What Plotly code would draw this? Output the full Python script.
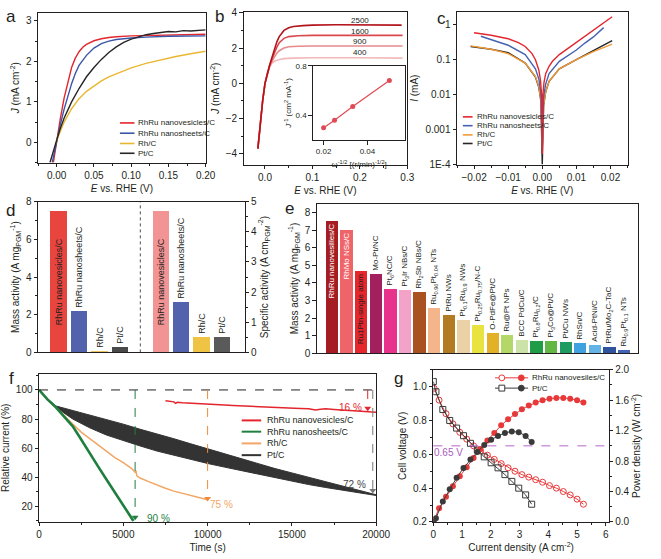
import plotly.graph_objects as go

W, H = 661, 559
FONT = "Liberation Sans, Arial, sans-serif"
INK = "#231f20"

# ===================== DATA =====================
# (a) polarization curves
a_names = ["RhRu nanovesicles/C", "RhRu nanosheets/C", "Rh/C", "Pt/C"]
a_colors = ["#e3262d", "#3b56a6", "#eab730", "#262626"]
a_ves_E = [-0.0045, -0.002, 0.0, 0.005, 0.01, 0.015, 0.02, 0.025, 0.03, 0.035, 0.04, 0.05, 0.06, 0.07, 0.08, 0.1, 0.12, 0.15, 0.2]
a_ves_J = [-0.5, -0.2, 0.05, 0.6, 1.1, 1.5, 1.85, 2.08, 2.24, 2.35, 2.42, 2.51, 2.56, 2.59, 2.61, 2.63, 2.64, 2.65, 2.67]
a_sht_E = [-0.006, -0.003, 0.0, 0.005, 0.01, 0.015, 0.02, 0.025, 0.03, 0.04, 0.05, 0.06, 0.07, 0.08, 0.1, 0.12, 0.15, 0.2]
a_sht_J = [-0.5, -0.22, 0.03, 0.45, 0.82, 1.15, 1.45, 1.7, 1.9, 2.15, 2.33, 2.44, 2.5, 2.54, 2.58, 2.6, 2.62, 2.63]
a_rh_E = [-0.002, 0.0, 0.005, 0.01, 0.02, 0.03, 0.04, 0.05, 0.06, 0.07, 0.08, 0.1, 0.12, 0.14, 0.16, 0.18, 0.2]
a_rh_J = [-0.05, 0.05, 0.3, 0.5, 0.83, 1.08, 1.26, 1.4, 1.52, 1.62, 1.7, 1.84, 1.95, 2.04, 2.12, 2.19, 2.25]
a_pt_E = [-0.009, -0.005, -0.002, 0.0, 0.005, 0.01, 0.02, 0.03, 0.04, 0.05, 0.06, 0.07, 0.08, 0.09, 0.1, 0.11, 0.12, 0.13, 0.14, 0.15, 0.16, 0.17, 0.18, 0.19, 0.2]
a_pt_J = [-0.5, -0.28, -0.08, 0.05, 0.35, 0.6, 1.0, 1.33, 1.62, 1.85, 2.05, 2.22, 2.36, 2.47, 2.55, 2.61, 2.66, 2.69, 2.72, 2.74, 2.73, 2.76, 2.75, 2.77, 2.78]

# (b) rotating-speed curves
b_rpm = ["2500", "1600", "900", "400"]
b_colors = ["#b3141b", "#d9484c", "#e98a8c", "#f3b9ba"]
b_E_2500 = [-0.015, -0.01, -0.005, 0.0, 0.005, 0.01, 0.015, 0.02, 0.025, 0.03, 0.04, 0.05, 0.06, 0.08, 0.1, 0.15, 0.2, 0.288]
b_J_2500 = [-3.7, -2.3, -1.0, 0.0, 0.6, 1.05, 1.5, 1.95, 2.35, 2.65, 3.0, 3.15, 3.22, 3.27, 3.3, 3.32, 3.32, 3.3]
b_E_1600 = [-0.015, -0.01, -0.005, 0.0, 0.005, 0.01, 0.015, 0.02, 0.025, 0.03, 0.04, 0.05, 0.07, 0.1, 0.2, 0.29]
b_J_1600 = [-3.7, -2.3, -1.0, 0.0, 0.6, 1.02, 1.4, 1.75, 2.05, 2.3, 2.55, 2.65, 2.7, 2.72, 2.72, 2.72]
b_E_900 = [-0.015, -0.01, -0.005, 0.0, 0.005, 0.01, 0.015, 0.02, 0.025, 0.03, 0.04, 0.05, 0.07, 0.1, 0.2, 0.29]
b_J_900 = [-3.7, -2.3, -1.0, 0.0, 0.6, 1.0, 1.3, 1.5, 1.7, 1.85, 2.0, 2.07, 2.1, 2.12, 2.12, 2.12]
b_E_400 = [-0.015, -0.01, -0.005, 0.0, 0.005, 0.01, 0.015, 0.02, 0.03, 0.04, 0.06, 0.1, 0.2, 0.29]
b_J_400 = [-3.7, -2.3, -1.0, 0.0, 0.55, 0.95, 1.15, 1.25, 1.35, 1.4, 1.43, 1.45, 1.45, 1.43]
b_label_J = [3.57, 2.96, 2.37, 1.72]
# inset: Koutecky-Levich
b_inset_w = [0.02, 0.025, 0.0333, 0.05]
b_inset_invJ = [0.30, 0.36, 0.47, 0.68]

# (c) Tafel / micro-polarization
c_colors = ["#e3262d", "#4562b0", "#f29a38", "#262626"]
c_ves_E = [-0.02, -0.015, -0.01, -0.007, -0.005, -0.003, -0.002, -0.001, -0.0005, -0.0002, 0.0, 0.0002, 0.0005, 0.001, 0.002, 0.003, 0.005, 0.0075, 0.01, 0.0125, 0.015, 0.0175, 0.02, 0.0205]
c_ves_I = [0.59, 0.5, 0.4, 0.31, 0.24, 0.15, 0.1, 0.05, 0.025, 0.01, 0.0002, 0.01, 0.022, 0.04, 0.065, 0.09, 0.14, 0.21, 0.3, 0.45, 0.69, 1.05, 1.6, 1.7]
c_sht_E = [-0.018, -0.015, -0.01, -0.005, -0.002, -0.001, -0.0004, 0.0, 0.0004, 0.001, 0.002, 0.005, 0.01, 0.0125, 0.015, 0.018]
c_sht_I = [0.47, 0.38, 0.26, 0.14, 0.055, 0.028, 0.011, 0.0003, 0.009, 0.02, 0.04, 0.09, 0.19, 0.3, 0.45, 0.83]
c_rh_E = [-0.021, -0.015, -0.01, -0.005, -0.002, -0.001, -0.0004, 0.0, 0.0004, 0.001, 0.002, 0.005, 0.01, 0.015, 0.0205]
c_rh_I = [0.25, 0.2, 0.15, 0.08, 0.033, 0.017, 0.007, 0.0003, 0.005, 0.012, 0.024, 0.055, 0.1, 0.17, 0.28]
c_pt_E = [-0.021, -0.015, -0.01, -0.005, -0.002, -0.001, -0.0004, 0.0, 0.0004, 0.001, 0.002, 0.005, 0.01, 0.015, 0.0205]
c_pt_I = [0.24, 0.2, 0.16, 0.08, 0.032, 0.016, 0.0065, 0.0001, 0.005, 0.012, 0.024, 0.055, 0.1, 0.18, 0.35]

# (d) mass / specific activity
d_labels = ["RhRu nanovesicles/C", "RhRu nanosheets/C", "Rh/C", "Pt/C"]
d_mass = [7.5, 2.2, 0.1, 0.3]
d_specific = [4.69, 1.69, 0.52, 0.52]
d_mass_colors = ["#e8453f", "#5262ad", "#e9c45a", "#4a4a4a"]
d_spec_colors = ["#f39494", "#5262ad", "#efc445", "#5a5a5a"]

# (e) comparison with reported catalysts
e_labels = ["RhRu nanovesilles/C", "RhMo NSs/C", "Ru1Ptn-single atom", "Mo-Pt/NC",
            "Pt<sub>6</sub>NC/C", "Pt<sub>3</sub>Ir NBs/C", "Rh<sub>2</sub>Sb NBs/C",
            "Ru<sub>0.96</sub>Pt<sub>0.04</sub> NTs", "PtRu NWs", "Pt<sub>0.1</sub>Ru<sub>0.9</sub> NWs",
            "Pt<sub>0.25</sub>Ru<sub>0.75</sub>/N-C", "O-PdFe@Pt/C", "Ru@Pt NPs", "BCC PdCu/C",
            "Pt<sub>0.8</sub>Ru<sub>0.2</sub>/C", "Pt<sub>3</sub>Co@Pt/C", "Pt/Cu NWs", "RhSn/C",
            "Acid-PtNi/C", "PtRu/Mo<sub>2</sub>C-TaC", "Ru<sub>0.9</sub>Pt<sub>0.1</sub> NTs"]
e_values = [7.55, 7.0, 4.7, 4.55, 3.65, 3.6, 3.5, 2.58, 2.2, 1.92, 1.65, 1.15, 1.05, 0.78,
            0.72, 0.7, 0.68, 0.6, 0.48, 0.4, 0.22]
e_colors = ["#a51d22", "#ef6469", "#e5262c", "#a3205f", "#e8338c", "#f3a3c8", "#a9521f",
            "#f4b58a", "#b27b22", "#ead2a6", "#e9e33f", "#e2b126", "#b4d867", "#cbe3a6",
            "#1f9c45", "#62b745", "#1e9b62", "#3fa1df", "#64b3e6", "#30539f", "#4362b2"]

# (f) chronoamperometry
f_ves_t = [7500, 7800, 8000, 8100, 8200, 8500, 9000, 9500, 10000, 10500, 11000, 11500, 12000, 12500, 13000, 13500, 14000, 14500, 15000, 15500, 16000, 16400, 16700, 17000, 17500, 18000, 18500, 19000, 19500, 20000]
f_ves_r = [92.5, 92.3, 91.8, 90.8, 91.5, 91.2, 90.8, 90.5, 90.2, 90.0, 89.6, 89.3, 89.0, 88.8, 88.5, 88.0, 87.6, 87.8, 87.5, 87.2, 87.0, 86.2, 86.8, 87.0, 86.6, 86.2, 86.0, 85.6, 85.2, 84.7]
f_sht_t = [0, 500, 1000, 1500, 2000, 2500, 3000, 3500, 4000, 4500, 5000, 5500, 5600]
f_sht_r = [100, 93.5, 88, 81.5, 75, 66, 56.5, 47.5, 38.5, 29.5, 20.5, 11.5, 10]
f_rh_t = [0, 500, 1000, 1500, 2000, 2500, 3000, 3500, 4000, 4500, 5000, 5500, 5700, 5750, 5800, 6000, 6500, 7000, 7500, 8000, 8500, 9000, 9500, 10000]
f_rh_r = [100, 93.5, 88, 82, 76.5, 71, 66.5, 62, 57.5, 53.5, 50, 46, 43.5, 44.5, 41, 39.5, 37, 34.5, 32.5, 30.5, 29, 27.5, 26, 24.5]
f_pt_t = [0, 500, 1000, 2000, 3000, 4000, 5000, 6000, 7000, 8000, 9000, 10000, 11000, 12000, 13000, 14000, 15000, 16000, 17000, 18000, 19000, 20000]
f_pt_hi = [100, 94, 89, 86, 83, 80, 76.5, 73, 70, 66.5, 63, 59.5, 56, 52.5, 49.5, 46, 43, 40, 37, 34, 31, 28]
f_pt_lo = [100, 94, 88, 80, 74, 69, 65, 61.5, 58, 55, 52, 49.5, 47, 44.5, 42, 39.5, 37.5, 35, 33, 31, 29.5, 27.5]
f_drop_t = [5700, 10000, 19800, 19500]
f_drop_end = [12.5, 25.5, 31, 87.5]
f_drop_text = ["90 %", "75 %", "72 %", "16 %"]

# (g) fuel cell polarization and power density
g_ves_I = [0.03, 0.2, 0.44, 0.68, 0.92, 1.16, 1.4, 1.64, 1.88, 2.12, 2.36, 2.6, 2.84, 3.08, 3.32, 3.56, 3.8, 4.04, 4.28, 4.52, 4.76, 5.0, 5.22]
g_ves_V = [0.99, 0.92, 0.84, 0.78, 0.73, 0.69, 0.65, 0.62, 0.595, 0.57, 0.545, 0.52, 0.5, 0.48, 0.465, 0.45, 0.435, 0.415, 0.4, 0.38, 0.36, 0.335, 0.305]
g_ves_P = [0.03, 0.18, 0.33, 0.47, 0.6, 0.72, 0.84, 0.96, 1.07, 1.17, 1.27, 1.35, 1.42, 1.48, 1.53, 1.57, 1.6, 1.62, 1.63, 1.63, 1.62, 1.6, 1.57]
g_pt_I = [0.0, 0.09, 0.33, 0.57, 0.81, 1.05, 1.29, 1.53, 1.77, 2.01, 2.25, 2.49, 2.73, 2.97, 3.21, 3.42]
g_pt_V = [1.03, 0.97, 0.865, 0.8, 0.755, 0.71, 0.665, 0.625, 0.585, 0.55, 0.52, 0.48, 0.44, 0.4, 0.36, 0.305]
g_pt_P = [0.0, 0.05, 0.27, 0.43, 0.58, 0.71, 0.82, 0.92, 1.01, 1.08, 1.13, 1.17, 1.19, 1.18, 1.13, 1.05]
g_ref_V = 0.65

# ===================== HELPERS =====================
def X(p): return p / W
def Y(p): return 1 - p / H
def dx(l, r): return [l / W, r / W]
def dy(top, bot): return [1 - bot / H, 1 - top / H]

def axis(domain, rng, anchor, dtick=None, minor=None, fmt=None, title=None, tsize=10,
         mirror=True, labels=True, ticks="outside", fsize=10, standoff=4, **kw):
    d = dict(range=rng, anchor=anchor, showline=True, linecolor=INK, linewidth=1, mirror=mirror,
             ticks=ticks, ticklen=3.5, tickwidth=1, tickcolor=INK, showgrid=False, zeroline=False,
             showticklabels=labels, tickfont=dict(family=FONT, size=fsize, color=INK))
    if domain is not None:
        d["domain"] = domain
    if dtick is not None:
        d["dtick"] = dtick
    if minor is not None:
        d["minor"] = dict(ticks="outside", ticklen=2, tickwidth=1, tickcolor=INK, dtick=minor)
    if fmt is not None:
        d["tickformat"] = fmt
    if title is not None:
        d["title"] = dict(text=title, font=dict(family=FONT, size=tsize, color=INK), standoff=standoff)
    d.update(kw)
    return d

fig = go.Figure()
shapes, annos = [], []

def legend_rows(x0, x1, xt, ys, names, colors, size=8, width=1.6):
    for yy, n, c in zip(ys, names, colors):
        shapes.append(dict(type="line", xref="paper", yref="paper", x0=X(x0), x1=X(x1),
                           y0=Y(yy), y1=Y(yy), line=dict(color=c, width=width)))
        annos.append(dict(xref="paper", yref="paper", x=X(xt), y=Y(yy), text=n, showarrow=False,
                          xanchor="left", yanchor="middle", font=dict(family=FONT, size=size, color=INK)))

# ===================== (a) =====================
for E, J, c in zip([a_ves_E, a_sht_E, a_rh_E, a_pt_E], [a_ves_J, a_sht_J, a_rh_J, a_pt_J], a_colors):
    fig.add_trace(go.Scatter(x=E, y=J, mode="lines", line=dict(color=c, width=1.4),
                             xaxis="x", yaxis="y", showlegend=False, cliponaxis=True))
legend_rows(120, 135, 137, [119.5, 130, 140.5, 150.5], a_names, a_colors, size=8)

# ===================== (b) =====================
for E, J, c in zip([b_E_400, b_E_900, b_E_1600, b_E_2500], [b_J_400, b_J_900, b_J_1600, b_J_2500], b_colors[::-1]):
    fig.add_trace(go.Scatter(x=E, y=J, mode="lines", line=dict(color=c, width=1.6),
                             xaxis="x2", yaxis="y2", showlegend=False))
for lab, yv in zip(b_rpm, b_label_J):
    annos.append(dict(xref="x2", yref="y2", x=0.2, y=yv, text=lab, showarrow=False,
                      font=dict(family=FONT, size=8, color=INK)))
fig.add_trace(go.Scatter(x=b_inset_w, y=b_inset_invJ, mode="lines+markers",
                         line=dict(color="#e04a55", width=1.2),
                         marker=dict(color="#e04a55", size=5), xaxis="x3", yaxis="y3", showlegend=False))

# ===================== (c) =====================
for E, I, c in zip([c_pt_E, c_rh_E, c_sht_E, c_ves_E], [c_pt_I, c_rh_I, c_sht_I, c_ves_I], c_colors[::-1]):
    fig.add_trace(go.Scatter(x=E, y=I, mode="lines", line=dict(color=c, width=1.4),
                             xaxis="x4", yaxis="y4", showlegend=False))
legend_rows(472, 482, 484, [113.3, 122.3, 131.7, 140.5], a_names, c_colors, size=8)

# ===================== (d) =====================
d_pos_m = [i + 1 for i in range(len(d_labels))]
d_pos_s = [i + 6 for i in range(len(d_labels))]
d_tp = ["inside", "outside", "outside", "outside"]
for pos, vals, cols, ya in [(d_pos_m, d_mass, d_mass_colors, "y5"), (d_pos_s, d_specific, d_spec_colors, "y6")]:
    fig.add_trace(go.Bar(x=pos, y=vals, width=0.8, offset=-0.4, marker=dict(color=cols, line=dict(width=0)),
                         text=d_labels, textangle=-90, textposition=d_tp,
                         insidetextanchor="middle", constraintext="none", cliponaxis=False,
                         insidetextfont=dict(family=FONT, size=9, color=INK),
                         outsidetextfont=dict(family=FONT, size=9, color=INK),
                         xaxis="x5", yaxis=ya, showlegend=False))
shapes.append(dict(type="line", xref="x5", yref="y5 domain", x0=5, x1=5, y0=0, y1=1,
                   line=dict(color=INK, width=0.8, dash="dot")))

# ===================== (e) =====================
e_pos = list(range(len(e_values)))
e_tp = ["inside"] * 3 + ["outside"] * (len(e_values) - 3)
e_tc = ["white", "white", INK] + [INK] * (len(e_values) - 3)
fig.add_trace(go.Bar(x=e_pos, y=e_values, width=0.84, offset=-0.42,
                     marker=dict(color=e_colors, line=dict(width=0)),
                     text=e_labels, textangle=-90, textposition=e_tp, insidetextanchor="end",
                     constraintext="none", cliponaxis=False,
                     insidetextfont=dict(family=FONT, size=8, color=e_tc),
                     outsidetextfont=dict(family=FONT, size=8, color=INK),
                     xaxis="x6", yaxis="y7", showlegend=False))

# ===================== (f) =====================
f_names = a_names
f_colors = ["#e3262d", "#1f7f3f", "#f2a665", "#333333"]
fig.add_trace(go.Scatter(x=f_pt_t, y=f_pt_hi, mode="lines", line=dict(color="#333333", width=1),
                         xaxis="x7", yaxis="y8", showlegend=False))
fig.add_trace(go.Scatter(x=f_pt_t, y=f_pt_lo, mode="lines", line=dict(color="#333333", width=1),
                         fill="tonexty", fillcolor="#333333", xaxis="x7", yaxis="y8", showlegend=False))
fig.add_trace(go.Scatter(x=f_rh_t, y=f_rh_r, mode="lines", line=dict(color=f_colors[2], width=1.5),
                         xaxis="x7", yaxis="y8", showlegend=False))
fig.add_trace(go.Scatter(x=f_sht_t, y=f_sht_r, mode="lines", line=dict(color=f_colors[1], width=2.6),
                         xaxis="x7", yaxis="y8", showlegend=False))
fig.add_trace(go.Scatter(x=f_ves_t, y=f_ves_r, mode="lines", line=dict(color=f_colors[0], width=1.5),
                         xaxis="x7", yaxis="y8", showlegend=False))
shapes.append(dict(type="line", xref="x7", yref="y8", x0=0, x1=20000, y0=100, y1=100,
                   line=dict(color=INK, width=1, dash="dash")))
f_drop_colors = ["#1f7f3f", "#f08a3a", "#777777", "#e3262d"]
for t, e, c in zip(f_drop_t, f_drop_end, f_drop_colors):
    shapes.append(dict(type="line", xref="x7", yref="y8", x0=t, x1=t, y0=100, y1=e,
                       line=dict(color=c, width=1, dash="dash")))
fig.add_trace(go.Scatter(x=f_drop_t, y=f_drop_end, mode="markers",
                         marker=dict(symbol="triangle-down", size=6, color=f_drop_colors),
                         xaxis="x7", yaxis="y8", showlegend=False))
f_txt_pos = [(6300, 12, "left"), (10000, 21, "left"), (19500, 35, "right"), (19300, 88, "right")]
f_txt_col = ["#1f7f3f", "#f2a665", "#444444", "#e3262d"]
for (tx, ty, anc), txt, c in zip(f_txt_pos, f_drop_text, f_txt_col):
    annos.append(dict(xref="x7", yref="y8", x=tx, y=ty, text=txt, showarrow=False, xanchor=anc,
                      font=dict(family=FONT, size=10, color=c)))
legend_rows(245, 265, 269, [423.5, 435, 447, 459], f_names, f_colors, size=9, width=2)

# ===================== (g) =====================
gr, gk = "#e8393a", "#3a3a3a"
fig.add_trace(go.Scatter(x=g_ves_I, y=g_ves_V, mode="lines+markers", line=dict(color=gr, width=1),
                         marker=dict(symbol="circle-open", size=6, color=gr, line=dict(width=1)),
                         xaxis="x8", yaxis="y9", showlegend=False))
fig.add_trace(go.Scatter(x=g_pt_I, y=g_pt_V, mode="lines+markers", line=dict(color=gk, width=1),
                         marker=dict(symbol="square-open", size=6, color=gk, line=dict(width=1)),
                         xaxis="x8", yaxis="y9", showlegend=False))
fig.add_trace(go.Scatter(x=g_ves_I, y=g_ves_P, mode="lines+markers", line=dict(color=gr, width=1),
                         marker=dict(symbol="circle", size=6, color=gr),
                         xaxis="x8", yaxis="y10", showlegend=False))
fig.add_trace(go.Scatter(x=g_pt_I, y=g_pt_P, mode="lines+markers", line=dict(color=gk, width=1),
                         marker=dict(symbol="circle", size=6, color=gk),
                         xaxis="x8", yaxis="y10", showlegend=False))
shapes.append(dict(type="line", xref="x8 domain", yref="y9", x0=0, x1=1, y0=g_ref_V, y1=g_ref_V,
                   line=dict(color="#b866c8", width=1, dash="dash")))
annos.append(dict(xref="x8", yref="y9", x=0.52, y=0.612, text="0.65 V", showarrow=False,
                  font=dict(family=FONT, size=10, color="#a95cbf")))
# legend of (g)
for yy, n, c, sym in [(380, "RhRu nanovesiles/C", gr, "circle"), (390.5, "Pt/C", gk, "square")]:
    shapes.append(dict(type="line", xref="paper", yref="paper", x0=X(505), x1=X(539), y0=Y(yy), y1=Y(yy),
                       line=dict(color=c, width=1)))
    shapes.append(dict(type="rect" if sym == "square" else "circle", xref="paper", yref="paper",
                       x0=X(509), x1=X(515), y0=Y(yy + 3), y1=Y(yy - 3),
                       line=dict(color=c, width=1), fillcolor="white"))
    shapes.append(dict(type="circle", xref="paper", yref="paper",
                       x0=X(529), x1=X(535), y0=Y(yy + 3), y1=Y(yy - 3),
                       line=dict(color=c, width=1), fillcolor=c))
    annos.append(dict(xref="paper", yref="paper", x=X(541), y=Y(yy), text=n, showarrow=False,
                      xanchor="left", yanchor="middle", font=dict(family=FONT, size=8, color=INK)))

# ===================== panel letters =====================
for L, (px, py) in zip("abcdefg", [(8, 11), (222, 11), (450, 13), (8, 209), (294, 207), (9, 381), (406, 381)]):
    annos.append(dict(xref="paper", yref="paper", x=X(px), y=Y(py), text=L, showarrow=False,
                      xanchor="center", yanchor="middle", font=dict(family=FONT, size=17, color=INK)))

Jt = "<i>J</i> (mA cm<sup>-2</sup>)"
Et = "<i>E</i> vs. RHE (V)"
layout = dict(
    width=W, height=H, margin=dict(l=0, r=0, t=0, b=0), paper_bgcolor="white", plot_bgcolor="white",
    font=dict(family=FONT, color=INK), bargap=0, showlegend=False,
    xaxis=axis(dx(36, 208), [-0.025, 0.2], "y", dtick=0.05, minor=0.025, fmt=".2f", title=Et),
    yaxis=axis(dy(7, 160), [-0.5, 3.2], "x", dtick=1, minor=0.5, title=Jt),
    xaxis2=axis(dx(247, 415), [-0.045, 0.3], "y2", dtick=0.1, minor=0.05, fmt=".1f", title=Et),
    yaxis2=axis(dy(6, 162), [-4.6, 4.05], "x2", dtick=2, minor=1, title=Jt),
    xaxis3=axis(dx(318, 413), [0.0151, 0.0573], "y3", fsize=8, tickvals=[0.02, 0.04], ticktext=["0.02", "0.04"],
                title="ω<sup>-1/2</sup> [(r/min)<sup>-1/2</sup>]", tsize=8, standoff=6),
    yaxis3=axis(dy(61, 137), [0.2, 0.8], "x3", fsize=8, tickvals=[0.4, 0.8], ticktext=["0.4", "0.8"],
                title="<i>J</i><sup>-1</sup> (cm<sup>2</sup> mA<sup>-1</sup>)", tsize=8, standoff=2),
    xaxis4=axis(dx(466, 641), [-0.025, 0.025], "y4", dtick=0.01, minor=0.005, fmt=".2f", title=Et),
    yaxis4=axis(dy(6, 162), [-4, 0.37], "x4", type="log", tickvals=[1e-4, 1e-3, 1e-2, 0.1, 1],
                ticktext=["1E-4", "0.001", "0.01", "0.1", "1"], title="<i>I</i> (mA)"),
    xaxis5=axis(dx(36, 248), [0, 10.1], "y5", labels=False, ticks=""),
    yaxis5=axis(dy(200, 354), [0, 8], "x5", dtick=2, minor=1, mirror=False,
                title="Mass activity (A mg<sub>PGM</sub><sup>-1</sup>)"),
    yaxis6=axis(None, [0, 5], "x5", dtick=1, minor=0.5, mirror=False, side="right", overlaying="y5",
                title="Specific activity (A cm<sub>PGM</sub><sup>-2</sup>)"),
    xaxis6=axis(dx(322, 652), [-1.02, 20.98], "y7", labels=False, ticks=""),
    yaxis7=axis(dy(202, 355), [0, 8.5], "x6", dtick=1,
                title="Mass activity (A mg<sub>PGM</sub><sup>-1</sup>)"),
    xaxis7=axis(dx(37, 383), [0, 20000], "y8", dtick=5000, minor=2500, fmt="d", title="Time (s)"),
    yaxis8=axis(dy(376, 527), [9.5, 111], "x7", tickvals=[20, 40, 60, 80, 100],
                minor=10, title="Relative current (%)"),
    xaxis8=axis(dx(441.7, 621.7), [0, 6.1], "y9", dtick=1, minor=0.5,
                title="Current density (A cm<sup>-2</sup>)"),
    yaxis9=axis(dy(371.7, 527.3), [0.2, 1.1], "x8", dtick=0.2, minor=0.1, fmt=".1f", mirror=False,
                title="Cell voltage (V)"),
    yaxis10=axis(None, [0, 2.0], "x8", dtick=0.4, minor=0.2, fmt=".1f", mirror=False, side="right",
                 overlaying="y9", title="Power density (W cm<sup>-2</sup>)"),
    shapes=shapes, annotations=annos,
)
fig.update_layout(**layout)
fig.write_html("out.html")
